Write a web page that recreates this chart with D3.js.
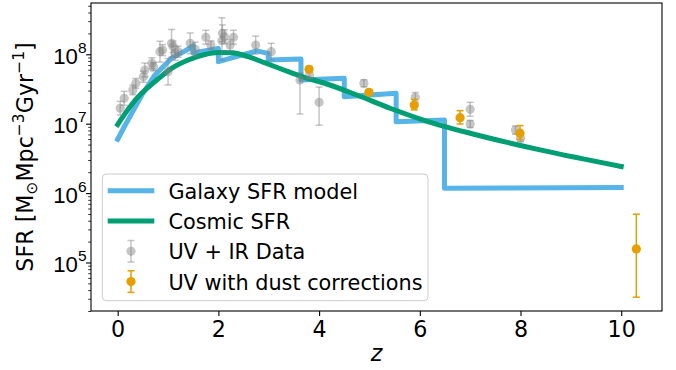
<!DOCTYPE html>
<html>
<head>
<meta charset="utf-8">
<script src="https://cdn.jsdelivr.net/npm/d3@7"></script>
<style>
  html, body { margin: 0; padding: 0; background: #fff; }
  svg { display: block; font-family: "DejaVu Sans", sans-serif; }
</style>
</head>
<body>
<svg id="chart" width="676" height="370"></svg>
<script>
// Galaxy SFR model: stepwise curve (repeated z marks a jump)
const modelZ   = [0, 0.15, 0.28, 0.48, 0.74, 1.07, 1.34, 1.5, 1.5, 2.0, 2.0, 2.76, 2.99, 2.99, 3.64, 3.64, 4.5, 4.5, 5.53, 5.53, 6.49, 6.49, 10];
const modelSFR = [5.96e6, 9.57e6, 1.41e7, 2.59e7, 5.04e7, 8.75e7, 1.12e8, 1.33e8, 1.045e8, 1.21e8, 7.82e7, 1.12e8, 1.03e8, 8.28e7, 8.55e7, 4.27e7, 4.51e7, 2.45e7, 2.74e7, 1.07e7, 1.13e7, 1.17e6, 1.20e6];

// Cosmic SFR density curve
const cosmicZ   = [0, 0.15, 0.41, 0.74, 1.07, 1.40, 1.73, 2.0, 2.27, 2.59, 2.93, 3.3, 3.72, 4.08, 4.75, 5.41, 6.07, 7.0, 8.39, 10];
const cosmicSFR = [9.73e6, 1.41e7, 2.45e7, 4.03e7, 6.28e7, 8.28e7, 9.93e7, 1.06e8, 1.05e8, 9.23e7, 7.50e7, 5.94e7, 4.62e7, 3.89e7, 2.59e7, 1.67e7, 1.13e7, 7.28e6, 4.19e6, 2.42e6];

// UV + IR measurements with error ranges
const uvirZ    = [0.05, 0.13, 0.30, 0.36, 0.51, 0.54, 0.68, 0.71, 0.84, 0.89, 1.0, 1.07, 1.1, 1.14, 1.2, 1.44, 1.54, 1.75, 1.85, 2.07, 2.08, 2.12, 2.23, 2.30, 2.74, 3.05, 3.62, 3.81, 4.0, 4.89, 5.91, 7.0, 7.0, 7.9, 8.0];
const uvirSFR  = [1.67e7, 2.32e7, 3.06e7, 3.82e7, 4.75e7, 5.94e7, 7.41e7, 6.62e7, 1.09e8, 1.15e8, 5.61e7, 1.44e8, 1.29e8, 1.03e8, 1.09e8, 1.44e8, 1.18e8, 1.76e8, 1.36e8, 1.57e8, 2.01e8, 1.79e8, 1.36e8, 1.76e8, 1.36e8, 1.09e8, 4.27e7, 5.04e7, 2.03e7, 3.82e7, 2.40e7, 1.61e7, 9.9e6, 8.1e6, 6.17e6];
const uvirLow  = [1.33e7, 1.84e7, 2.61e7, 3.25e7, 3.95e7, 4.72e7, 6.17e7, 5.77e7, 7.72e7, 9.57e7, 3.62e7, 9.09e7, 1.07e8, 8.18e7, 9.07e7, 1.02e8, 9.37e7, 1.40e8, 1.18e8, 8.24e7, 1.52e8, 1.42e8, 1.13e8, 1.40e8, 1.01e8, 8.27e7, 1.38e7, 4.49e7, 9.5e6, 3.40e7, 2.04e7, 1.28e7, 8.8e6, 7.05e6, 5.5e6];
const uvirHigh = [2.10e7, 2.92e7, 3.60e7, 4.49e7, 5.71e7, 7.48e7, 8.91e7, 7.60e7, 1.54e8, 1.38e8, 8.69e7, 2.28e8, 1.55e8, 1.30e8, 1.31e8, 2.03e8, 1.49e8, 2.22e8, 1.56e8, 3.36e8, 2.65e8, 2.25e8, 1.63e8, 2.22e8, 1.83e8, 1.44e8, 5.38e7, 5.66e7, 3.37e7, 4.29e7, 2.82e7, 2.03e7, 1.11e7, 9.3e6, 6.9e6];

// UV measurements with dust corrections
const uvZ    = [3.80, 4.99, 5.89, 6.80, 7.99, 10.3];
const uvSFR  = [6.08e7, 2.83e7, 1.86e7, 1.22e7, 7.3e6, 1.57e5];
const uvLow  = [5.55e7, 2.58e7, 1.58e7, 9.9e6, 5.9e6, 3.16e4];
const uvHigh = [6.66e7, 3.10e7, 2.24e7, 1.54e7, 9.4e6, 4.96e5];

// Axis ticks
const xTicks = [0, 2, 4, 6, 8, 10];
const yExponents = [5, 6, 7, 8];

const legendLabels = ["Galaxy SFR model", "Cosmic SFR", "UV + IR Data", "UV with dust corrections"];

const BLUE = "#56B4E9", GREEN = "#009E73", ORANGE = "#E69F00", GREY = "#808080";

const plot = { left: 91, right: 662, top: 3, bottom: 311 };
const svg = d3.select("#chart");

const x = d3.scaleLinear().domain([-0.53, 10.81]).range([plot.left, plot.right]);
const y = d3.scaleLog().domain([Math.pow(10, 4.301), Math.pow(10, 8.739)]).range([plot.bottom, plot.top]);

const zip = (a, b) => a.map((v, i) => [v, b[i]]);

// Curves
const line = d3.line().x(d => x(d[0])).y(d => y(d[1]));

svg.append("path")
  .attr("d", line.curve(d3.curveLinear)(zip(modelZ, modelSFR)))
  .attr("fill", "none").attr("stroke", BLUE).attr("stroke-width", 5)
  .attr("stroke-linejoin", "round").attr("stroke-linecap", "square");

svg.append("path")
  .attr("d", d3.line().x(d => x(d[0])).y(d => y(d[1])).curve(d3.curveMonotoneX)(zip(cosmicZ, cosmicSFR)))
  .attr("fill", "none").attr("stroke", GREEN).attr("stroke-width", 5)
  .attr("stroke-linejoin", "round").attr("stroke-linecap", "square");

// Error bar helper
function errorBar(g, cx, cy, yLo, yHi, color, opacity, capW) {
  const e = g.append("g").attr("opacity", 1);
  e.append("line").attr("x1", cx).attr("x2", cx).attr("y1", yLo).attr("y2", yHi)
    .attr("stroke", color).attr("stroke-width", 1.5).attr("stroke-opacity", opacity);
  [yLo, yHi].forEach(v => {
    e.append("line").attr("x1", cx - capW / 2).attr("x2", cx + capW / 2).attr("y1", v).attr("y2", v)
      .attr("stroke", color).attr("stroke-width", 1.5).attr("stroke-opacity", opacity);
  });
  e.append("circle").attr("cx", cx).attr("cy", cy).attr("r", 4.6)
    .attr("fill", color).attr("fill-opacity", opacity);
}

const greyG = svg.append("g");
uvirZ.forEach((z, i) => {
  errorBar(greyG, x(z), y(uvirSFR[i]), y(uvirLow[i]), y(uvirHigh[i]), GREY, 0.45, 7);
});

const orangeG = svg.append("g");
uvZ.forEach((z, i) => {
  errorBar(orangeG, x(z), y(uvSFR[i]), y(uvLow[i]), y(uvHigh[i]), ORANGE, 1, 7);
});

// Axes
const xAxis = d3.axisBottom(x).tickValues(xTicks).tickSize(4.9).tickPadding(6).tickFormat(d3.format("d"));
const gx = svg.append("g").attr("transform", `translate(0,${plot.bottom})`).call(xAxis);
gx.select(".domain").remove();
gx.selectAll(".tick line").attr("stroke", "#000").attr("stroke-width", 1.1);
gx.selectAll(".tick text").attr("font-size", 22.2).attr("font-family", "DejaVu Sans").attr("fill", "#000")
  .attr("y", null).attr("dy", null).attr("transform", "translate(0,26.2)");

const majorY = yExponents.map(e => Math.pow(10, e));
const minorY = [];
for (let e = 4; e <= 8; e++) for (let m = 2; m <= 9; m++) {
  const v = m * Math.pow(10, e);
  if (v >= y.domain()[0] && v <= y.domain()[1]) minorY.push(v);
}
const gyMinor = svg.append("g").attr("transform", `translate(${plot.left},0)`)
  .call(d3.axisLeft(y).tickValues(minorY).tickSize(2.8).tickFormat(""));
gyMinor.select(".domain").remove();
gyMinor.selectAll(".tick line").attr("stroke", "#000").attr("stroke-width", 0.8);

const gy = svg.append("g").attr("transform", `translate(${plot.left},0)`)
  .call(d3.axisLeft(y).tickValues(majorY).tickSize(4.9).tickFormat(""));
gy.select(".domain").remove();
gy.selectAll(".tick line").attr("stroke", "#000").attr("stroke-width", 1.1);
gy.selectAll(".tick").each(function(d) {
  const t = d3.select(this).append("text")
    .attr("x", -4.5).attr("y", 9).attr("text-anchor", "end")
    .attr("font-size", 22.2).attr("fill", "#000");
  t.append("tspan").text("10");
  t.append("tspan").attr("font-size", 15.5).attr("dy", -11).text(String(Math.round(Math.log10(d))));
});

// Frame
svg.append("rect")
  .attr("x", plot.left).attr("y", plot.top)
  .attr("width", plot.right - plot.left).attr("height", plot.bottom - plot.top)
  .attr("fill", "none").attr("stroke", "#000").attr("stroke-width", 1.1);

// Axis titles
svg.append("text")
  .attr("x", (plot.left + plot.right) / 2).attr("y", 361)
  .attr("text-anchor", "middle").attr("font-size", 22.2).attr("font-style", "italic")
  .text("z");

const yl = svg.append("text")
  .attr("transform", `translate(33,${(plot.top + plot.bottom) / 2}) rotate(-90)`)
  .attr("text-anchor", "middle").attr("font-size", 22.2);
yl.append("tspan").text("SFR [M");
yl.append("tspan").attr("font-size", 15.5).attr("dy", 4).text("\u2299");
yl.append("tspan").attr("dy", -4).text("Mpc");
yl.append("tspan").attr("font-size", 15.5).attr("dy", -9).text("\u22123");
yl.append("tspan").attr("dy", 9).text("Gyr");
yl.append("tspan").attr("font-size", 15.5).attr("dy", -9).text("\u22121");
yl.append("tspan").attr("dy", 9).text("]");

// Legend
const lg = svg.append("g");
lg.append("rect")
  .attr("x", 102.3).attr("y", 174).attr("width", 325.7).attr("height", 126.7)
  .attr("rx", 4).attr("ry", 4)
  .attr("fill", "#fff").attr("fill-opacity", 0.8)
  .attr("stroke", "#cccccc").attr("stroke-width", 1);

const rowY = [190.7, 221, 251.3, 281.6];
const hx0 = 110.2, hx1 = 151.8, hxc = (hx0 + hx1) / 2;
[BLUE, GREEN].forEach((c, i) => {
  lg.append("line").attr("x1", hx0).attr("x2", hx1).attr("y1", rowY[i]).attr("y2", rowY[i])
    .attr("stroke", c).attr("stroke-width", 5).attr("stroke-linecap", "square");
});
errorBar(lg, hxc, rowY[2], rowY[2] + 10.8, rowY[2] - 10.8, GREY, 0.45, 7);
errorBar(lg, hxc, rowY[3], rowY[3] + 10.8, rowY[3] - 10.8, ORANGE, 1, 7);

legendLabels.forEach((label, i) => {
  lg.append("text").attr("x", 168.4).attr("y", rowY[i] + 8)
    .attr("font-size", 20.8).attr("fill", "#000").text(label);
});
</script>
</body>
</html>
